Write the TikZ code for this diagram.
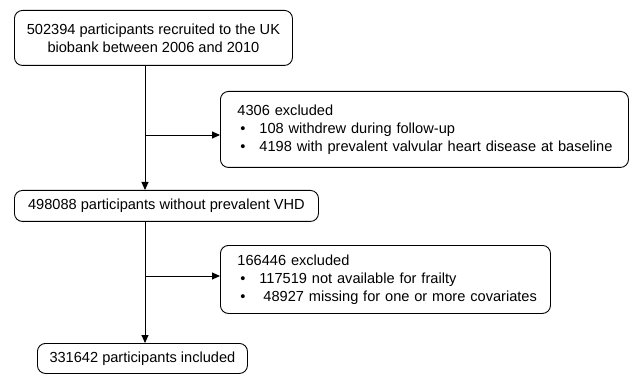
\documentclass[tikz,border=0pt]{standalone}
\usepackage{fontspec}
\setmainfont{Liberation Sans}
\usetikzlibrary{arrows.meta}

% bullet line inside an exclusion box
\newcommand\exclItem[1]{\mbox{\makebox[22pt][l]{\hspace{3pt}\textbullet}#1}}

\begin{document}
\begin{tikzpicture}[
    x=1pt, y=-1pt,
    box/.style={
        draw, rounded corners=8pt, line width=0.9pt,
        inner sep=0pt, anchor=north west,
        font=\fontsize{14.6}{18}\selectfont
    },
    exclbox/.style={box, align=left, inner xsep=17pt},
    flow/.style={line width=0.9pt, -{Triangle[length=8pt,width=7pt]}}
]

\useasboundingbox (0,0) rectangle (629,374);

% Spine and branch points
\def\spineX{145}
\coordinate (split1) at (\spineX,135);
\coordinate (split2) at (\spineX,276);

% Main boxes
\node[box, minimum width=278pt, minimum height=55pt, align=center]
    (recruit) at (14,10)
    {502394 participants recruited to the UK\\biobank between 2006 and 2010};

\node[box, minimum width=304pt, minimum height=31pt]
    (noVHD) at (14,190)
    {498088 participants without prevalent VHD};

\node[box, minimum width=210pt, minimum height=30pt]
    (included) at (37,343)
    {331642 participants included};

% Exclusion boxes
\node[exclbox, text width=374pt, minimum height=76pt]
    (excl1) at (220,91)
    {4306 excluded\\
     \exclItem{108 withdrew during follow-up}\\
     \exclItem{4198 with prevalent valvular heart disease at baseline}};

\node[exclbox, text width=296pt, minimum height=68pt]
    (excl2) at (220,245)
    {166446 excluded\\
     \exclItem{117519 not available for frailty}\\
     \exclItem{\hspace{4pt}48927 missing for one or more covariates}};

% Connectors
\draw[line width=0.9pt] (recruit.south -| split1) -- (split1);
\draw[flow] (split1) -- (excl1.west |- split1);
\draw[flow] (split1) -- (noVHD.north -| split1);

\draw[line width=0.9pt] (noVHD.south -| split2) -- (split2);
\draw[flow] (split2) -- (excl2.west |- split2);
\draw[flow] (split2) -- (included.north -| split2);

\end{tikzpicture}
\end{document}
